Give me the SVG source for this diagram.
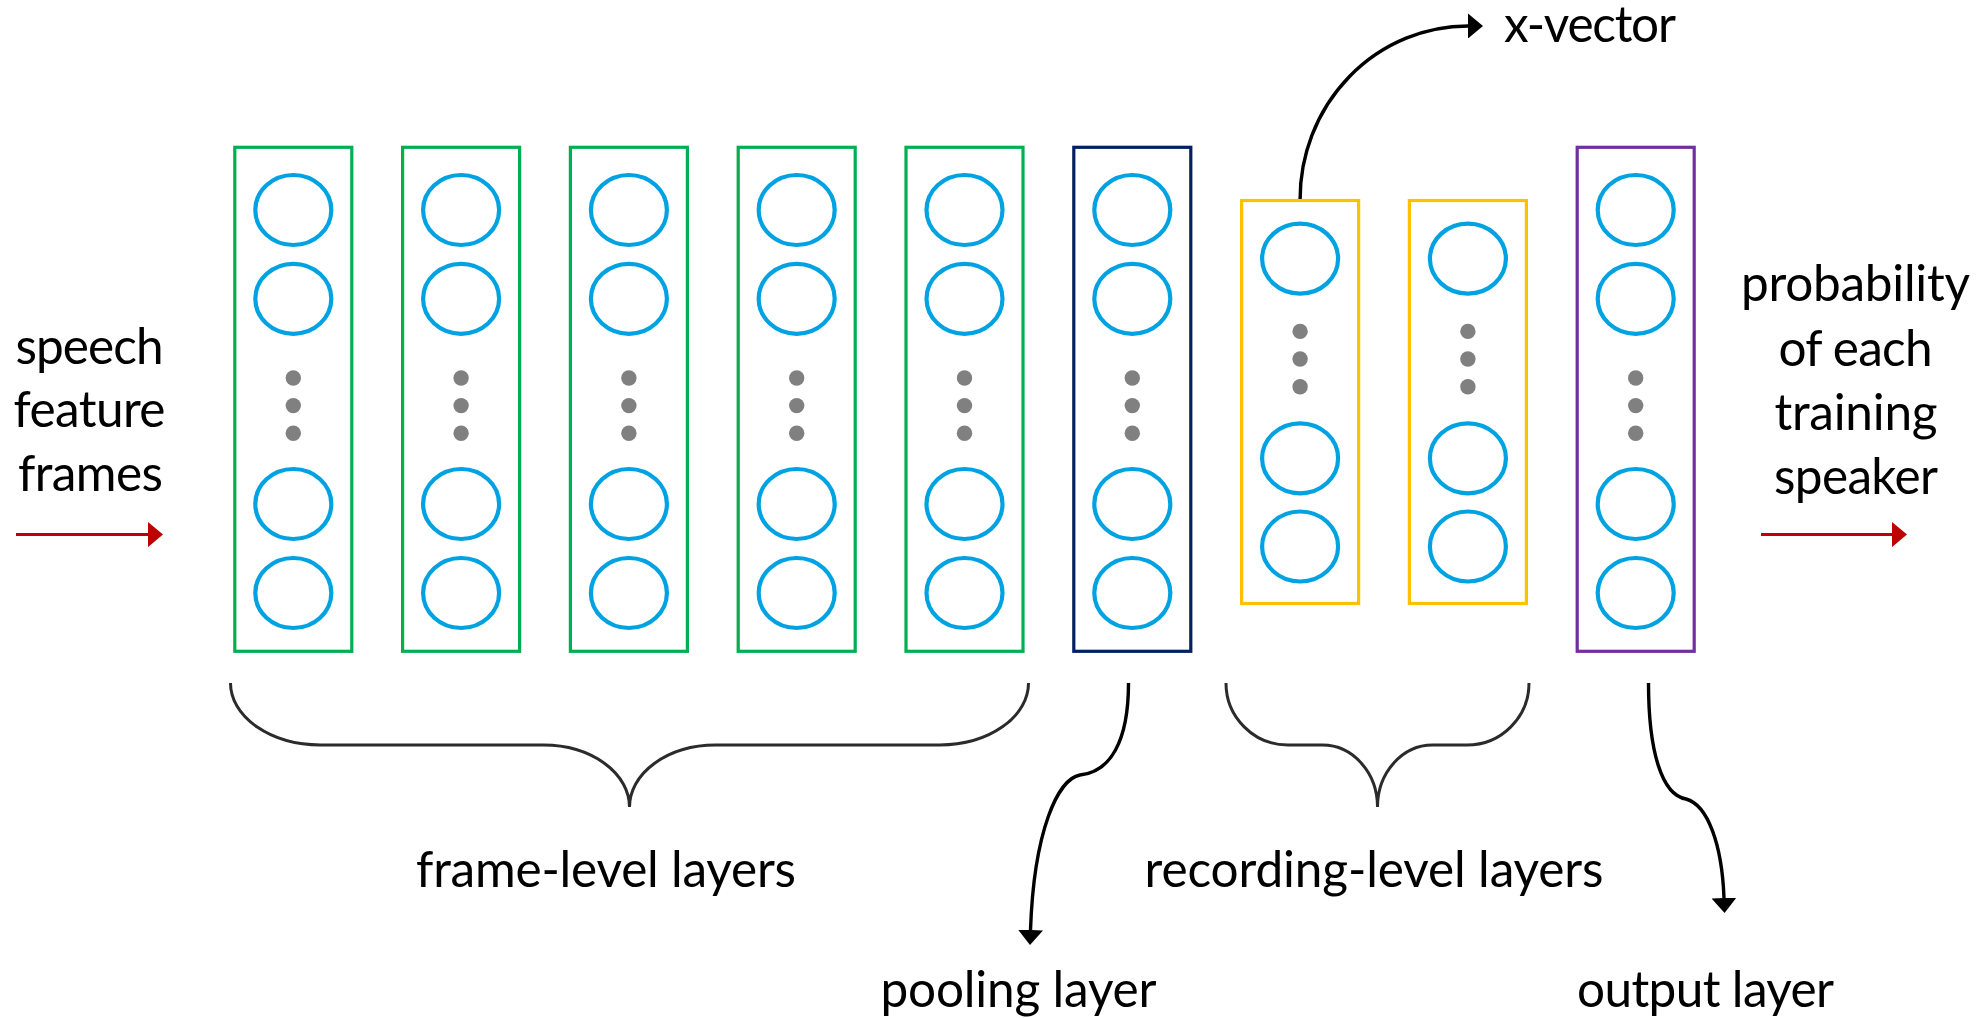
<svg xmlns="http://www.w3.org/2000/svg" width="1979" height="1018" viewBox="0 0 1979 1018">
  <defs>
    <style>
      .layer { fill: none; stroke-width: 3.2; }
      .frame { stroke: #00B050; }
      .pool { stroke: #002060; }
      .rec { stroke: #FFC000; }
      .out { stroke: #7030A0; }
      .unit { fill: none; stroke: #00A2E2; stroke-width: 4.2; }
      .dot { fill: #808080; }
      .brace { fill: none; stroke: #2b2b2b; stroke-width: 3; }
      .link { fill: none; stroke: #000; stroke-width: 3.4; }
      .io { stroke: #C00000; stroke-width: 3; fill: none; }
      .lbl { font-family: Lato, "Open Sans", "Liberation Sans", sans-serif; font-size: 49.5px; fill: #000; text-anchor: middle; }
    </style>
    <marker id="head" markerUnits="userSpaceOnUse" viewBox="0 0 15 25" refX="0" refY="12.5" markerWidth="15" markerHeight="25" orient="auto">
      <path d="M0,0 L15,12.5 L0,25 Z" fill="#000"/>
    </marker>
    <marker id="headRed" markerUnits="userSpaceOnUse" viewBox="0 0 15 25" refX="0" refY="12.5" markerWidth="15" markerHeight="25" orient="auto">
      <path d="M0,0 L15,12.5 L0,25 Z" fill="#C00000"/>
    </marker>
    <!-- tall column: 2 units, ellipsis, 2 units -->
    <g id="tallUnits">
      <ellipse class="unit" cx="0" cy="210" rx="38" ry="35"/>
      <ellipse class="unit" cx="0" cy="298.8" rx="38" ry="35"/>
      <circle class="dot" cx="0" cy="378" r="7.7"/>
      <circle class="dot" cx="0" cy="405.6" r="7.7"/>
      <circle class="dot" cx="0" cy="433.2" r="7.7"/>
      <ellipse class="unit" cx="0" cy="504" rx="38" ry="35"/>
      <ellipse class="unit" cx="0" cy="593" rx="38" ry="35"/>
    </g>
    <!-- short column: 1 unit, ellipsis, 2 units -->
    <g id="shortUnits">
      <ellipse class="unit" cx="0" cy="258.6" rx="38" ry="35"/>
      <circle class="dot" cx="0" cy="331.4" r="7.7"/>
      <circle class="dot" cx="0" cy="359" r="7.7"/>
      <circle class="dot" cx="0" cy="386.7" r="7.7"/>
      <ellipse class="unit" cx="0" cy="458.3" rx="38" ry="35"/>
      <ellipse class="unit" cx="0" cy="546.5" rx="38" ry="35"/>
    </g>
  </defs>

  <rect width="1979" height="1018" fill="#fff"/>

  <!-- frame-level layers -->
  <g id="frame1">
    <rect class="layer frame" x="234.8" y="147.3" width="117" height="504"/>
    <use href="#tallUnits" x="293.3"/>
  </g>
  <g id="frame2">
    <rect class="layer frame" x="402.6" y="147.3" width="117" height="504"/>
    <use href="#tallUnits" x="461.1"/>
  </g>
  <g id="frame3">
    <rect class="layer frame" x="570.4" y="147.3" width="117" height="504"/>
    <use href="#tallUnits" x="628.9"/>
  </g>
  <g id="frame4">
    <rect class="layer frame" x="738.2" y="147.3" width="117" height="504"/>
    <use href="#tallUnits" x="796.7"/>
  </g>
  <g id="frame5">
    <rect class="layer frame" x="906" y="147.3" width="117" height="504"/>
    <use href="#tallUnits" x="964.5"/>
  </g>

  <!-- pooling layer -->
  <g id="pooling">
    <rect class="layer pool" x="1073.8" y="147.3" width="117" height="504"/>
    <use href="#tallUnits" x="1132.3"/>
  </g>

  <!-- recording-level layers -->
  <g id="segment6">
    <rect class="layer rec" x="1241.6" y="200.5" width="117" height="403"/>
    <use href="#shortUnits" x="1300.1"/>
  </g>
  <g id="segment7">
    <rect class="layer rec" x="1409.4" y="200.5" width="117" height="403"/>
    <use href="#shortUnits" x="1467.9"/>
  </g>

  <!-- softmax output layer -->
  <g id="softmax">
    <rect class="layer out" x="1577.2" y="147.3" width="117" height="504"/>
    <use href="#tallUnits" x="1635.7"/>
  </g>

  <!-- input / output labels -->
  <g id="input">
    <text class="lbl" x="89.5" y="363.5" textLength="148">speech</text>
    <text class="lbl" x="89.5" y="427" textLength="152">feature</text>
    <text class="lbl" x="90.5" y="491" textLength="145">frames</text>
  </g>
  <g id="posterior">
    <text class="lbl" x="1855.5" y="301" textLength="229">probability</text>
    <text class="lbl" x="1855.5" y="365.5" textLength="154">of each</text>
    <text class="lbl" x="1856" y="430" textLength="163">training</text>
    <text class="lbl" x="1856" y="494" textLength="164">speaker</text>
  </g>
  <g id="xvector">
    <text class="lbl" x="1590" y="42" textLength="172">x-vector</text>
  </g>
  <g id="labels">
    <text class="lbl" x="606" y="886.5" textLength="380">frame-level layers</text>
    <text class="lbl" x="1374" y="886.5" textLength="459">recording-level layers</text>
    <text class="lbl" x="1018.5" y="1006.5" textLength="276">pooling layer</text>
    <text class="lbl" x="1705.5" y="1006.5" textLength="257">output layer</text>
  </g>

  <!-- connectors -->
  <g id="connectors">
    <path class="io" d="M16,534.6 L148,534.6" marker-end="url(#headRed)"/>
    <path class="io" d="M1761,534.6 L1892,534.6" marker-end="url(#headRed)"/>
    <path class="link" d="M1300.1,199 A168,173 0 0 1 1468,26" marker-end="url(#head)"/>
    <path class="brace" d="M230.5,683 A90,62 0 0 0 320.5,745 L543.5,745 A86,62 0 0 1 629.5,807 A86,62 0 0 1 715.5,745 L939.5,745 A89,62 0 0 0 1028.5,683"/>
    <path class="brace" d="M1226,683 A62,62 0 0 0 1288,745 L1322.5,745 A55,62 0 0 1 1377.5,807 A55,62 0 0 1 1432.5,745 L1467,745 A62,62 0 0 0 1529,683"/>
    <path class="link" d="M1128.5,683 C1128.5,742 1110,772 1080,775 C1058,779 1034,830 1030.5,930" marker-end="url(#head)"/>
    <path class="link" d="M1648.5,683 C1648.5,752 1662,795 1686,799 C1708,805 1722,845 1724,898" marker-end="url(#head)"/>
  </g>
</svg>
